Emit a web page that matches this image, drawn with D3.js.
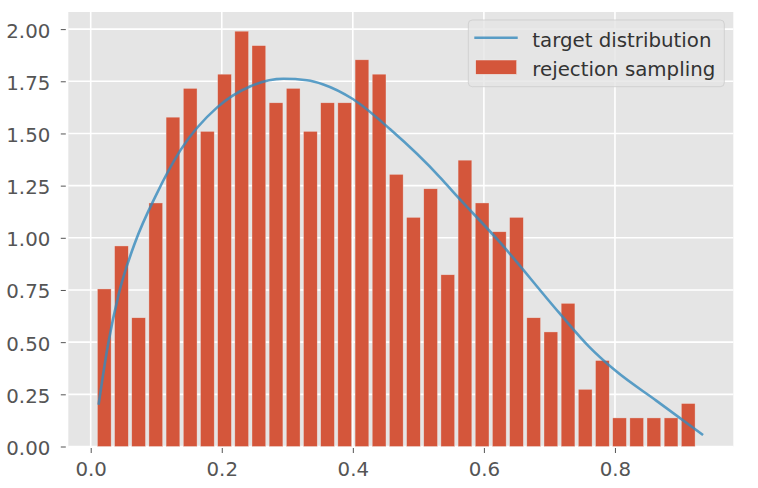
<!DOCTYPE html>
<html>
<head>
<meta charset="utf-8">
<script src="https://cdn.jsdelivr.net/npm/d3@7/dist/d3.min.js"></script>
<style>
  html, body { margin: 0; padding: 0; background: #ffffff; }
  svg { display: block; }
  text { font-family: "DejaVu Sans", sans-serif; }
</style>
</head>
<body>
<svg id="chart" width="758" height="488"></svg>
<script>
// ---- data ----
const binCenters = [0.0207, 0.0469, 0.0731, 0.0993, 0.1255, 0.1518, 0.1780, 0.2042, 0.2304, 0.2566,
                    0.2828, 0.3090, 0.3352, 0.3614, 0.3876, 0.4139, 0.4401, 0.4663, 0.4925, 0.5187,
                    0.5449, 0.5711, 0.5973, 0.6235, 0.6497, 0.6760, 0.7022, 0.7284, 0.7546, 0.7808,
                    0.8070, 0.8332, 0.8594, 0.8856, 0.9118];
const density = [0.755, 0.961, 0.617, 1.167, 1.578, 1.716, 1.510, 1.784, 1.990, 1.921,
                 1.647, 1.716, 1.510, 1.647, 1.647, 1.853, 1.784, 1.304, 1.098, 1.235,
                 0.823, 1.372, 1.167, 1.029, 1.098, 0.617, 0.549, 0.686, 0.274, 0.412,
                 0.137, 0.137, 0.137, 0.137, 0.206];
const curveX = [0.012, 0.0265, 0.0427, 0.068, 0.099, 0.137, 0.193, 0.243, 0.294, 0.33,
                0.355, 0.40, 0.457, 0.533, 0.553, 0.624, 0.715, 0.76, 0.802, 0.863, 0.9345];
const curveY = [0.20, 0.49, 0.73, 0.98, 1.20, 1.42, 1.625, 1.725, 1.762, 1.755,
                1.735, 1.665, 1.52, 1.29, 1.22, 0.98, 0.64, 0.48, 0.36, 0.22, 0.055];
const xTicks = [0.0, 0.2, 0.4, 0.6, 0.8];
const yTicks = [0.00, 0.25, 0.50, 0.75, 1.00, 1.25, 1.50, 1.75, 2.00];
const seriesNames = ["target distribution", "rejection sampling"];

// ---- layout / style constants ----
const binWidth = 0.02621, rwidth = 0.8;
const plot = { left: 68.3, right: 733.3, top: 12, bottom: 446.5 };
const bg = "#E5E5E5", barColor = "#D4563B", lineColor = "#348ABD";
const fontSize = 19.8;

const svg = d3.select("#chart");
const x = d3.scaleLinear().domain([-0.0342, 0.9806]).range([plot.left, plot.right]);
const y = d3.scaleLinear().domain([0, 2.082]).range([plot.bottom, plot.top]);

// background
svg.append("rect")
  .attr("x", plot.left).attr("y", plot.top)
  .attr("width", plot.right - plot.left).attr("height", plot.bottom - plot.top)
  .attr("fill", bg);

// grid
const grid = svg.append("g");
grid.selectAll("line.gx").data(xTicks).join("line")
  .attr("x1", d => x(d)).attr("x2", d => x(d))
  .attr("y1", plot.top).attr("y2", plot.bottom)
  .attr("stroke", "#fff").attr("stroke-width", 1.6);
grid.selectAll("line.gy").data(yTicks).join("line")
  .attr("y1", d => y(d)).attr("y2", d => y(d))
  .attr("x1", plot.left).attr("x2", plot.right)
  .attr("stroke", "#fff").attr("stroke-width", 1.6);

// axes
const xAxis = d3.axisBottom(x).tickValues(xTicks).tickFormat(d3.format(".1f")).tickSize(5).tickPadding(8.5);
const yAxis = d3.axisLeft(y).tickValues(yTicks).tickFormat(d3.format(".2f")).tickSize(5).tickPadding(10.5);
const gx = svg.append("g").attr("transform", `translate(0,${plot.bottom + 1.5})`).call(xAxis);
const gy = svg.append("g").attr("transform", `translate(${plot.left - 2.5},0)`).call(yAxis);
[gx, gy].forEach(g => {
  g.select(".domain").remove();
  g.selectAll(".tick line").attr("stroke", "#555").attr("stroke-width", 1);
  g.selectAll(".tick text").attr("fill", "#555").attr("font-size", fontSize)
    .attr("font-family", "DejaVu Sans, sans-serif");
});
gy.selectAll(".tick text").attr("dy", "0.4em");

// bars
svg.append("g").selectAll("rect").data(binCenters).join("rect")
  .attr("x", d => x(d - binWidth * rwidth / 2))
  .attr("width", d => x(d + binWidth * rwidth / 2) - x(d - binWidth * rwidth / 2))
  .attr("y", (d, i) => y(density[i]))
  .attr("height", (d, i) => y(0) - y(density[i]))
  .attr("fill", barColor)
  .attr("stroke", "#EEEEEE").attr("stroke-opacity", 0.6).attr("stroke-width", 0.6);

// curve
const pts = curveX.map((v, i) => [v, curveY[i]]);
svg.append("path")
  .datum(pts)
  .attr("d", d3.line().x(d => x(d[0])).y(d => y(d[1])).curve(d3.curveMonotoneX))
  .attr("fill", "none").attr("stroke", lineColor).attr("stroke-opacity", 0.8)
  .attr("stroke-width", 2.6);

// legend
const lg = svg.append("g");
lg.append("rect").attr("x", 468.3).attr("y", 20).attr("width", 256).attr("height", 66.7)
  .attr("rx", 4).attr("fill", bg).attr("fill-opacity", 0.8)
  .attr("stroke", "#CCCCCC").attr("stroke-opacity", 0.8).attr("stroke-width", 1);
lg.append("line").attr("x1", 474.3).attr("x2", 517.7).attr("y1", 37.7).attr("y2", 37.7)
  .attr("stroke", lineColor).attr("stroke-opacity", 0.8).attr("stroke-width", 2.6);
lg.append("rect").attr("x", 475.7).attr("y", 60).attr("width", 41).attr("height", 14.3)
  .attr("fill", barColor).attr("stroke", "#EEEEEE").attr("stroke-width", 0.5);
lg.selectAll("text").data(seriesNames).join("text")
  .attr("x", 532.3).attr("y", (d, i) => i === 0 ? 46.5 : 75.5)
  .attr("font-size", fontSize).attr("fill", "#333")
  .text(d => d);
</script>
</body>
</html>
